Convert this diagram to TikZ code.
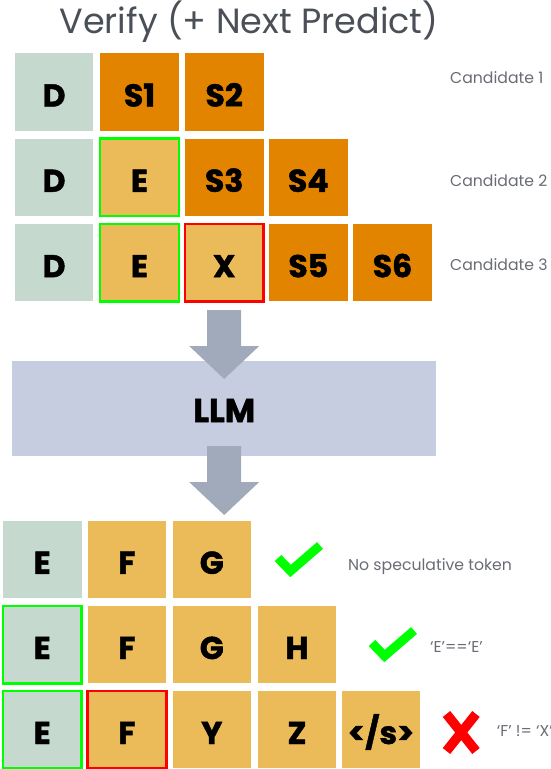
\documentclass[tikz,border=0pt]{standalone}
\usepackage{fontspec}
\setmainfont{Poppins}
\newfontfamily\heavyfont{Poppins}[BoldFeatures={FakeBold=1.5}]

\definecolor{sage}{RGB}{197,217,206}
\definecolor{deeporange}{RGB}{227,132,0}
\definecolor{paleorange}{RGB}{235,187,90}
\definecolor{okgreen}{RGB}{0,255,0}
\definecolor{badred}{RGB}{255,0,0}
\definecolor{arrowgray}{RGB}{160,170,187}
\definecolor{llmfill}{RGB}{199,205,224}
\definecolor{titlegray}{RGB}{75,80,88}
\definecolor{notegray}{RGB}{105,108,116}

\tikzset{
  tok/.style={minimum width=78.6pt, minimum height=77.5pt, inner sep=0pt,
    font=\fontsize{31.5}{31.5}\heavyfont\bfseries, text height=29pt, text depth=0pt},
  draftbox/.style={tok, fill=sage},
  specbox/.style={tok, fill=deeporange},
  genbox/.style={tok, fill=paleorange},
  hit/.style={draw=okgreen, line width=2.5pt},
  miss/.style={draw=badred, line width=2.5pt},
  note/.style={anchor=base west, inner sep=0pt, text=notegray,
    font=\fontsize{15.7}{15.7}\selectfont},
  blockarrow/.style={fill=arrowgray},
  tick/.style={draw=okgreen, line width=9pt, miter limit=10},
  crossmark/.style={draw=badred, line width=9.5pt}
}

% downward block arrow whose shaft top centre is #1
\newcommand\dropArrow[1]{%
  \fill[blockarrow] #1 -- ++(17,0) -- ++(0,36) -- ++(18,0) -- ++(-35,33)
    -- ++(-35,-33) -- ++(18,0) -- ++(0,-36) -- cycle;}

\begin{document}
\begin{tikzpicture}[x=1pt,y=-1pt]
\useasboundingbox (0,0) rectangle (550,769);

% title
\node[anchor=base, inner sep=0pt, text=titlegray,
      font=\fontsize{35}{35}\selectfont] (title) at (249,33) {Verify (+ Next Predict)};

% candidate rows
\node[draftbox] (d1) at (54,92)    {D};
\node[specbox]  (s1) at (139.5,92) {S1};
\node[specbox]  (s2) at (224.2,92) {S2};

\node[draftbox]   (d2) at (54,177.3)    {D};
\node[genbox,hit] (e2) at (139.5,177.3) {E};
\node[specbox]    (s3) at (224.2,177.3) {S3};
\node[specbox]    (s4) at (308.3,177.3) {S4};

\node[draftbox]    (d3) at (54,262.7)    {D};
\node[genbox,hit]  (e3) at (139.5,262.7) {E};
\node[genbox,miss] (x3) at (224.2,262.7) {X};
\node[specbox]     (s5) at (308.3,262.7) {S5};
\node[specbox]     (s6) at (392.5,262.7) {S6};

\node[note] (c1) at (450,83)    {Candidate 1};
\node[note] (c2) at (450,186.5) {Candidate 2};
\node[note] (c3) at (450,270)   {Candidate 3};

% model
\node[fill=llmfill, minimum width=423.7pt, minimum height=95pt, inner sep=0pt,
      font=\fontsize{33}{33}\heavyfont\bfseries, text height=27pt, text depth=0pt]
      (llm) at (224.2,408.5) {LLM};
\dropArrow{(224.2,310)}
\dropArrow{(224.2,446)}

% verified outputs
\node[draftbox] (o1e) at (42.2,559.3) {E};
\node[genbox]   (o1f) at (127,559.3)  {F};
\node[genbox]   (o1g) at (211.8,559.3){G};

\node[draftbox,hit] (o2e) at (42.2,644.5) {E};
\node[genbox]       (o2f) at (127,644.5)  {F};
\node[genbox]       (o2g) at (211.8,644.5){G};
\node[genbox]       (o2h) at (297,644.5)  {H};

\node[draftbox,hit] (o3e) at (42.2,729.5) {E};
\node[genbox,miss]  (o3f) at (127,729.5)  {F};
\node[genbox]       (o3y) at (211.8,729.5){Y};
\node[genbox]       (o3z) at (297,729.5)  {Z};
\node[genbox]       (o3s) at (381,729.5)  {</s>};

% verdicts
\draw[tick] (278,558) -- (290.5,571) -- (320,545.5);
\draw[tick] (372,643) -- (384.5,656) -- (414,630.5);
\draw[crossmark] (446.5,714) -- (476,751);
\draw[crossmark] (476,714) -- (446.5,751);

\node[note] (n1) at (348,570.7)   {No speculative token};
\node[note] (n2) at (430,652.7)   {‘E’==‘E’};
\node[note] (n3) at (496.7,736.7) {‘F’ != ‘X’};
\end{tikzpicture}
\end{document}
